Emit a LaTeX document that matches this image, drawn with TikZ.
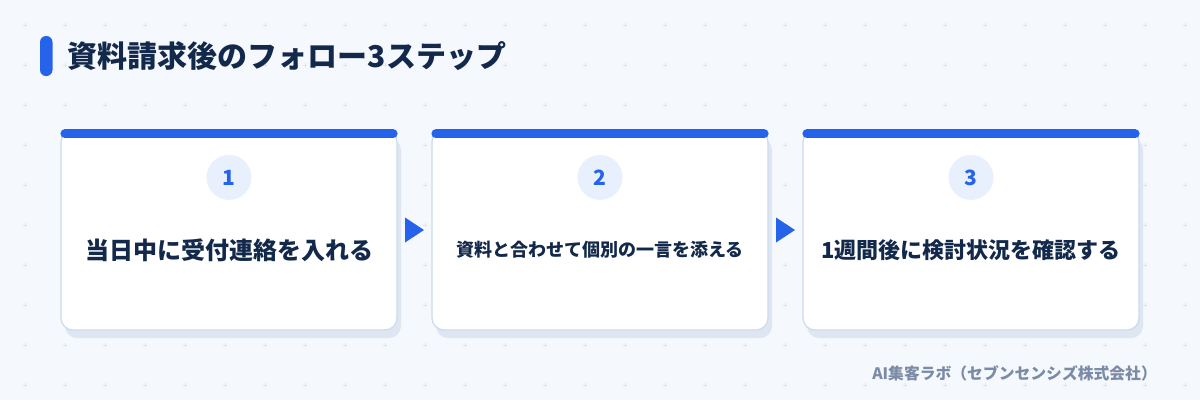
\documentclass[tikz,border=0pt]{standalone}
\usepackage{fontspec}
\setmainfont{Noto Sans CJK JP}
\usetikzlibrary{positioning}
\usetikzlibrary{calc}
\usetikzlibrary{shadows}

\definecolor{pagebg}{HTML}{F5F8FC}
\definecolor{gridmark}{HTML}{DFE6F0}
\definecolor{accent}{HTML}{2563EB}
\definecolor{inktext}{HTML}{13294B}
\definecolor{cardline}{HTML}{CCDAEE}
\definecolor{cardshadow}{HTML}{DEE6F2}
\definecolor{numfill}{HTML}{E8F0FD}
\definecolor{creditgray}{HTML}{7B8BA6}

\begin{document}
\begin{tikzpicture}[x = 1pt, y = -1pt,
		card/.style = {draw = cardline, line width = 1.2pt, fill = white, rounded corners = 12pt,
			minimum width = 336pt, minimum height = 200pt, inner sep = 0,
			drop shadow = {shadow xshift = 4pt, shadow yshift = -8pt, fill = cardshadow, opacity = 1}},
		topbar/.style = {draw = accent, line width = 9pt, line cap = round},
		stepnum/.style = {circle, fill = numfill, minimum size = 45pt, inner sep = 0,
			text = accent, font = \fontsize{21}{24}\selectfont\bfseries},
		steptext/.style = {text = inktext, inner sep = 0, font = \fontsize{#1}{#1}\selectfont\bfseries},
		steparrow/.style = {fill = accent}]

		% background and dot grid
		\fill [pagebg] (0, 0) rectangle (1200, 400);
		\useasboundingbox (0, 0) rectangle (1200, 400);
		\foreach \i in {0, ..., 29} {
			\foreach \j in {0, ..., 9} {
				\draw [gridmark, line width = 0.8pt] (25 + 40 * \i - 2, 25 + 40 * \j) -- ++(4, 0);
				\draw [gridmark, line width = 0.8pt] (25 + 40 * \i, 25 + 40 * \j - 2) -- ++(0, 4);
			}
		}

		% title
		\node [fill = accent, rounded corners = 6pt, minimum width = 12.5pt, minimum height = 40pt, inner sep = 0] (titlebar) at (46.25, 56) {};
		\node [right = 15pt of titlebar, inner sep = 0, text = inktext, font = \fontsize{30}{31}\selectfont\bfseries] (title) {資料請求後のフォロー3ステップ};

		% cards
		\node [card] (card1) at (229, 230) {};
		\node [card] (card2) at (600, 230) {};
		\node [card] (card3) at (971, 230) {};

		\draw [topbar] ($(card1.north west) + (4.5, 4.5)$) -- ($(card1.north east) + (-4.5, 4.5)$);
		\draw [topbar] ($(card2.north west) + (4.5, 4.5)$) -- ($(card2.north east) + (-4.5, 4.5)$);
		\draw [topbar] ($(card3.north west) + (4.5, 4.5)$) -- ($(card3.north east) + (-4.5, 4.5)$);

		\node [stepnum] (num1) at ($(card1.north) + (0, 48)$) {1};
		\node [stepnum] (num2) at ($(card2.north) + (0, 48)$) {2};
		\node [stepnum] (num3) at ($(card3.north) + (0, 48)$) {3};

		\node [steptext = 24] (label1) at ($(card1.center) + (0, 20)$) {当日中に受付連絡を入れる};
		\node [steptext = 18] (label2) at ($(card2.center) + (0, 20)$) {資料と合わせて個別の一言を添える};
		\node [steptext = 22] (label3) at ($(card3.center) + (0, 20)$) {1週間後に検討状況を確認する};

		% arrows between the cards
		\coordinate (gap1) at ($(card1.east)!0.5!(card2.west)$);
		\coordinate (gap2) at ($(card2.east)!0.5!(card3.west)$);
		\fill [steparrow] ($(gap1) + (-9.5, -12.5)$) -- ($(gap1) + (9.5, 0)$) -- ($(gap1) + (-9.5, 12.5)$) -- cycle;
		\fill [steparrow] ($(gap2) + (-9.5, -12.5)$) -- ($(gap2) + (9.5, 0)$) -- ($(gap2) + (-9.5, 12.5)$) -- cycle;

		% credit
		\node [anchor = east, inner sep = 0, text = creditgray, font = \fontsize{15.8}{18}\selectfont\bfseries] (credit) at (1157, 373) {AI集客ラボ（セブンセンシズ株式会社）};
	\end{tikzpicture}
\end{document}
